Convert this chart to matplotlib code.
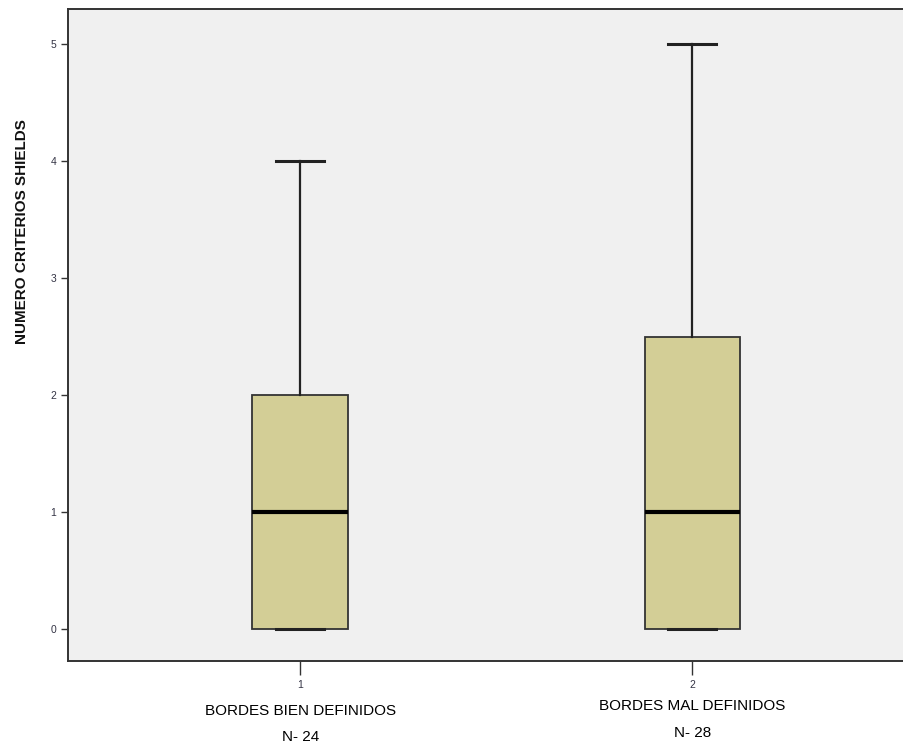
import matplotlib
matplotlib.use("Agg")
import matplotlib.pyplot as plt

# Five-number summaries per group
groups = ["BORDES BIEN DEFINIDOS", "BORDES MAL DEFINIDOS"]
group_n = ["N- 24", "N- 28"]
positions = [1, 2]
whisker_low = [0, 0]
q1 = [0, 0]
median = [1, 1]
q3 = [2, 2.5]
whisker_high = [4, 5]
y_ticks = [0, 1, 2, 3, 4, 5]

stats = [
    dict(whislo=lo, q1=a, med=m, q3=b, whishi=hi)
    for lo, a, m, b, hi in zip(whisker_low, q1, median, q3, whisker_high)
]

fig = plt.figure(figsize=(9.04, 7.53), dpi=100)
ax = fig.add_axes([0.0752, 0.1222, 0.927, 0.866])
ax.set_facecolor("#F0F0F0")

ax.bxp(
    stats, positions=positions, widths=0.243, showfliers=False,
    patch_artist=True,
    boxprops=dict(facecolor="#D3CE96", edgecolor="#333333", linewidth=1.3),
    medianprops=dict(color="black", linewidth=3),
    whiskerprops=dict(color="#222222", linewidth=1.6),
    capprops=dict(color="#222222", linewidth=2.2),
    capwidths=0.122,
)

ax.set_xlim(0.408, 2.545)
ax.set_ylim(-0.27, 5.3)
ax.set_yticks(y_ticks)
ax.set_yticklabels([str(v) for v in y_ticks], fontsize=7.5, fontfamily="Liberation Sans",
                   color="#333344")
ax.set_xticks(positions)
ax.set_xticklabels([str(p) for p in positions], fontsize=7.5, fontfamily="Liberation Sans",
                   color="#333344")
ax.tick_params(axis="y", length=5, width=1, color="#333333")
ax.tick_params(axis="x", length=10, width=1, color="#333333", pad=4)

for side in ["left", "bottom", "top"]:
    ax.spines[side].set_linewidth(1.4)
    ax.spines[side].set_color("#333333")
ax.spines["right"].set_visible(False)

fig.text(22 / 904, 1 - 232 / 753, "NUMERO CRITERIOS SHIELDS", rotation=90,
         ha="center", va="center", fontsize=11, fontweight="bold",
         fontfamily="Liberation Sans", color="#111111")

cat_font = ["DejaVu Sans Condensed", "Liberation Sans"]
label_y = [(711, 737), (706, 733)]
for pos, name, n, (y1, y2) in zip(positions, groups, group_n, label_y):
    xf = ax.transData.transform((pos, 0))[0] / fig.bbox.width
    fig.text(xf, 1 - y1 / 753, name, ha="center", va="center", fontsize=11,
             fontfamily=cat_font, fontstretch="condensed")
    fig.text(xf, 1 - y2 / 753, n, ha="center", va="center", fontsize=11,
             fontfamily=cat_font, fontstretch="condensed")

fig.savefig("out.png", dpi=100, facecolor="white")
